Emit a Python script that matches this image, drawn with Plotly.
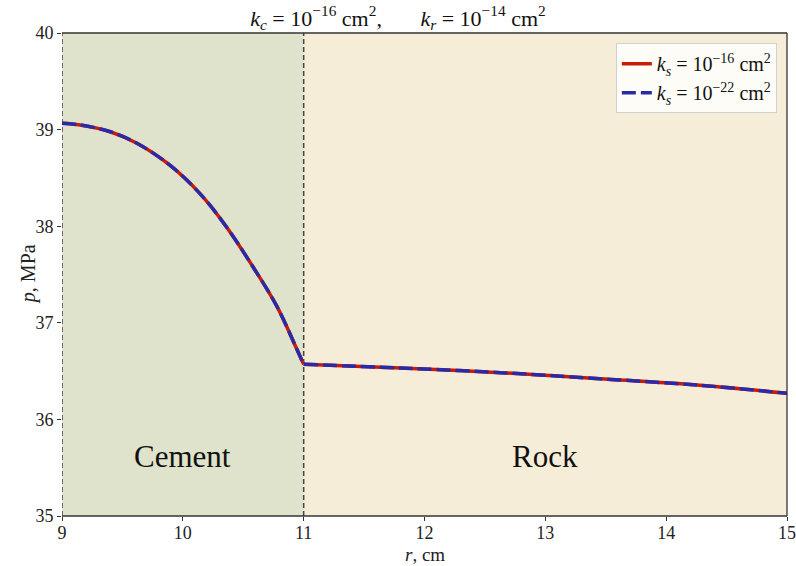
import plotly.graph_objects as go

# Data
r_cement = [9.0, 9.15, 9.40, 9.62, 9.89, 10.14, 10.36, 10.58, 10.78, 10.94, 11.0]
p_cement = [39.065, 39.048, 38.978, 38.858, 38.634, 38.34, 37.995, 37.58, 37.167, 36.736, 36.57]
r_rock = [11.0, 11.8, 12.63, 13.45, 14.28, 15.0]
p_rock = [36.57, 36.532, 36.484, 36.421, 36.353, 36.27]

x_ticks = [9, 10, 11, 12, 13, 14, 15]
y_ticks = [35, 36, 37, 38, 39, 40]
r_interface = 11.0
r_min, r_max = 9.0, 15.0
p_min, p_max = 35.0, 40.0

FONT = "Liberation Serif"
cement_color = "#dfe3cb"
rock_color = "#f5edd7"

series = [
    ("ks16", "<i>k<sub>s</sub></i> = 10<sup>−16</sup> cm<sup>2</sup>",
     dict(color="#cc1a00", width=3.5)),
    ("ks22", "<i>k<sub>s</sub></i> = 10<sup>−22</sup> cm<sup>2</sup>",
     dict(color="#2a2aa8", width=3.5, dash="14px,5px")),
]

fig = go.Figure()
for key, label, ln in series:
    for i, (rs, ps) in enumerate([(r_cement, p_cement), (r_rock, p_rock)]):
        fig.add_trace(go.Scatter(
            x=rs, y=ps, mode="lines",
            line=dict(shape="spline", smoothing=1.0, **ln),
            name=label, legendgroup=key, showlegend=(i == 0)))

shapes = [
    dict(type="rect", xref="x", yref="y", x0=r_min, x1=r_interface, y0=p_min, y1=p_max,
         fillcolor=cement_color, line=dict(width=0), layer="below"),
    dict(type="rect", xref="x", yref="y", x0=r_interface, x1=r_max, y0=p_min, y1=p_max,
         fillcolor=rock_color, line=dict(width=0), layer="below"),
    dict(type="line", xref="x", yref="y", x0=r_min, x1=r_min, y0=p_min, y1=p_max,
         line=dict(color="#444444", width=1.5, dash="5px,3px"), layer="below"),
    dict(type="line", xref="x", yref="y", x0=r_interface, x1=r_interface, y0=p_min, y1=p_max,
         line=dict(color="#444444", width=1.5, dash="5px,3px"), layer="below"),
    dict(type="line", xref="paper", yref="paper", x0=0, x1=1, y0=0, y1=0,
         line=dict(color="#333333", width=1.3)),
    dict(type="line", xref="paper", yref="paper", x0=0, x1=1, y0=1, y1=1,
         line=dict(color="#333333", width=1.3)),
    dict(type="line", xref="paper", yref="paper", x0=1, x1=1, y0=0, y1=1,
         line=dict(color="#333333", width=1.3)),
]

annotations = [
    dict(x=10, y=35.62, xref="x", yref="y", text="Cement", showarrow=False,
         font=dict(family=FONT, size=31, color="#111111")),
    dict(x=13, y=35.62, xref="x", yref="y", text="Rock", showarrow=False,
         font=dict(family=FONT, size=31, color="#111111")),
    dict(x=0.5, y=-0.079, xref="paper", yref="paper", text="<i>r</i>, cm", showarrow=False,
         xanchor="center", yanchor="middle", font=dict(family=FONT, size=19, color="#222222")),
    dict(x=-0.046, y=0.5, xref="paper", yref="paper", text="<i>p</i>, MPa", showarrow=False,
         textangle=-90, xanchor="center", yanchor="middle",
         font=dict(family=FONT, size=20, color="#222222")),
]

fig.update_layout(
    width=796, height=566,
    margin=dict(l=62, r=9, t=33, b=50),
    paper_bgcolor="white", plot_bgcolor="white",
    font=dict(family=FONT, size=18, color="#222222"),
    title=dict(text="<i>k<sub>c</sub></i> = 10<sup>−16</sup> cm<sup>2</sup>,       "
                    "<i>k<sub>r</sub></i> = 10<sup>−14</sup> cm<sup>2</sup>",
               x=0.5, xanchor="center", y=0.982, yanchor="top",
               font=dict(family=FONT, size=22, color="#111111")),
    xaxis=dict(range=[r_min, r_max], tickvals=x_ticks, showgrid=False, zeroline=False,
               ticks="outside", ticklen=4, tickcolor="#333333", showline=False,
               ticklabelstandoff=-4, automargin=False),
    yaxis=dict(range=[p_min, p_max], tickvals=y_ticks, showgrid=False, zeroline=False,
               ticks="outside", ticklen=4, tickcolor="#333333", showline=False,
               automargin=False),
    legend=dict(x=0.986, y=0.979, xanchor="right", yanchor="top", tracegroupgap=0,
                bgcolor="rgba(255,255,255,0.8)", bordercolor="#d0d0d0", borderwidth=1,
                font=dict(family=FONT, size=20, color="#111111")),
    shapes=shapes, annotations=annotations,
)

fig.write_html("out.html")
